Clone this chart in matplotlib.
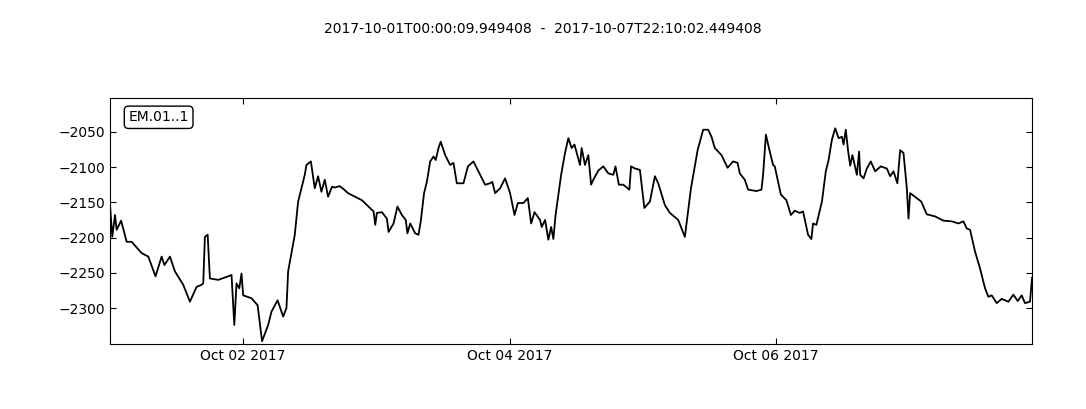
import numpy as np
import matplotlib
matplotlib.use("Agg")
import matplotlib.pyplot as plt
import matplotlib.dates as mdates
from datetime import datetime, timedelta

station = "EM.01..1"
start = datetime(2017, 10, 1, 0, 0, 9, 949408)
end = datetime(2017, 10, 7, 22, 10, 2, 449408)

# hours since start
hours = [0.0, 0.41, 0.9, 1.2, 2.0, 3.0, 3.9, 5.7, 6.9, 8.2, 9.3, 9.8, 10.8, 11.7,
         13.2, 14.4, 15.6, 16.5, 16.8, 17.1, 17.6, 18.0, 19.5, 21.3, 21.9, 22.4,
         22.8, 23.3, 23.7, 24.0, 25.5, 26.6, 27.4, 28.5, 29.1, 30.2, 31.2, 31.8,
         32.1, 33.3, 33.9, 35.1, 35.4, 36.2, 36.9, 37.5, 38.1, 38.7, 39.3, 40.0,
         40.5, 41.4, 42.2, 42.9, 45.4, 47.5, 47.8, 48.1, 49.0, 49.9, 50.2, 51.1,
         51.8, 52.6, 53.3, 53.6, 54.1, 55.0, 55.6, 56.0, 56.6, 57.1, 57.7, 58.3,
         58.7, 59.2, 59.6, 60.4, 61.3, 61.9, 62.5, 63.7, 64.5, 65.5, 66.4, 67.6,
         68.5, 68.9, 69.4, 70.3, 71.2, 72.1, 72.9, 73.5, 74.5, 75.3, 75.9, 76.5,
         77.5, 77.8, 78.4, 79.0, 79.5, 79.9, 80.3, 81.3, 82.0, 82.6, 83.2, 83.7,
         84.7, 85.0, 85.6, 86.2, 86.7, 87.1, 88.0, 88.9, 89.8, 90.7, 91.1, 91.7,
         92.5, 93.6, 93.9, 94.6, 95.5, 96.3, 97.3, 98.2, 98.8, 100.0, 100.9, 102.4,
         103.6, 104.7, 105.9, 106.9, 107.8, 108.4, 109.0, 110.2, 111.3, 112.3,
         113.1, 113.5, 114.4, 115.0, 116.5, 117.4, 117.7, 118.2, 118.9, 119.5,
         119.8, 120.9, 121.9, 122.7, 123.4, 124.3, 124.9, 125.8, 126.4, 126.7,
         127.3, 128.3, 129.0, 129.5, 130.1, 130.7, 131.3, 131.9, 132.2, 132.6,
         133.0, 133.4, 133.8, 134.6, 135.0, 135.2, 135.8, 136.4, 137.1, 137.9,
         138.9, 140.0, 140.6, 141.2, 141.9, 142.4, 143.0, 143.6, 143.9, 144.2,
         145.4, 146.2, 147.2, 148.7, 150.2, 151.7, 152.9, 153.8, 154.4, 155.0,
         155.9, 156.8, 157.7, 158.3, 158.9, 159.8, 160.7, 161.9, 162.8, 163.6,
         164.3, 164.9, 165.8, 166.1646]

values = [-2154, -2199, -2168, -2189, -2176, -2206, -2206, -2222, -2227, -2255,
          -2227, -2239, -2227, -2248, -2267, -2291, -2270, -2267, -2265, -2199,
          -2196, -2258, -2260, -2255, -2253, -2324, -2265, -2272, -2251, -2282,
          -2286, -2296, -2347, -2324, -2305, -2289, -2312, -2300, -2248, -2196,
          -2149, -2111, -2097, -2092, -2130, -2113, -2135, -2118, -2142, -2128,
          -2129, -2127, -2132, -2137, -2147, -2163, -2182, -2165, -2164, -2173,
          -2192, -2180, -2156, -2168, -2175, -2194, -2180, -2194, -2196, -2177,
          -2137, -2121, -2092, -2085, -2090, -2073, -2064, -2083, -2097, -2094,
          -2123, -2123, -2099, -2092, -2106, -2125, -2123, -2121, -2137, -2130,
          -2116, -2137, -2168, -2151, -2151, -2144, -2180, -2164, -2175, -2185,
          -2175, -2203, -2185, -2202, -2168, -2111, -2080, -2059, -2073, -2068,
          -2097, -2073, -2097, -2083, -2125, -2118, -2105, -2099, -2109, -2111,
          -2099, -2125, -2125, -2132, -2099, -2102, -2104, -2158, -2149, -2113,
          -2123, -2154, -2165, -2175, -2199, -2130, -2076, -2047, -2047, -2057,
          -2073, -2083, -2101, -2092, -2094, -2109, -2118, -2132, -2134, -2132,
          -2111, -2054, -2078, -2097, -2099, -2139, -2147, -2168, -2162, -2165,
          -2163, -2196, -2202, -2180, -2182, -2149, -2106, -2090, -2061, -2045,
          -2059, -2057, -2068, -2047, -2076, -2098, -2083, -2111, -2078, -2111,
          -2116, -2102, -2092, -2106, -2099, -2102, -2113, -2106, -2123, -2076,
          -2080, -2130, -2173, -2137, -2144, -2149, -2167, -2170, -2176, -2177,
          -2180, -2177, -2187, -2189, -2220, -2244, -2272, -2284, -2282, -2293,
          -2287, -2291, -2281, -2290, -2282, -2293, -2291, -2257]

yticks = [-2050, -2100, -2150, -2200, -2250, -2300]

times = [start + timedelta(hours=h) for h in hours]

fig = plt.figure(figsize=(10.86, 4.09), dpi=100)
ax = fig.add_axes([0.1013, 0.1589, 0.8490, 0.6015])
ax.plot(times, values, color="black", linewidth=1.3)

ax.set_xlim(start, end)
ax.set_ylim(-2351, -2002)
ax.set_yticks(yticks)
ax.xaxis.set_major_locator(mdates.DayLocator(bymonthday=[2, 4, 6]))
ax.xaxis.set_major_formatter(mdates.DateFormatter("%b %d %Y"))
ax.tick_params(direction="in", top=True, right=True, length=4, labelsize=10)

ax.text(0.02, 0.95, station, transform=ax.transAxes, ha="left", va="top",
        fontsize=10,
        bbox=dict(boxstyle="round", facecolor="white", edgecolor="black"))

fig.suptitle(start.strftime("%Y-%m-%dT%H:%M:%S.%f") + "  -  " +
             end.strftime("%Y-%m-%dT%H:%M:%S.%f"), y=0.945, fontsize=10)

fig.savefig("out.png", dpi=100)
